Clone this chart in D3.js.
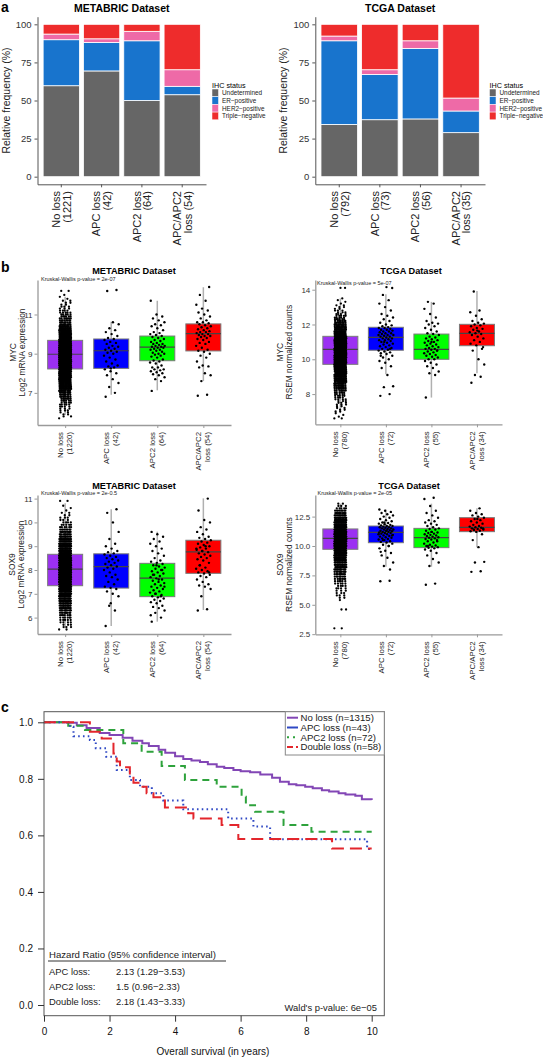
<!DOCTYPE html>
<html><head><meta charset="utf-8">
<script src="https://cdn.jsdelivr.net/npm/d3@7"></script>
<style>body{margin:0;background:#fff}svg{display:block}text{font-family:"Liberation Sans",Arial,Helvetica,sans-serif}</style>
</head><body><svg id="c" width="543" height="1061" font-family="Liberation Sans, Arial, Helvetica, sans-serif"></svg>
<script>
// ================= DATA =================
const groups = ["No loss","APC loss","APC2 loss","APC/APC2 loss"];
const ihcStatus = ["Undetermined","ER−positive","HER2−positive","Triple−negative"];
// Panel a – relative frequency (%) segments
const metabricUndet = [59.7,69.4,50.0,53.8];
const metabricER    = [30.2,18.7,39.2,5.5];
const metabricHER2  = [3.7,2.4,6.2,10.9];
const metabricTN    = [6.4,9.5,4.6,29.8];
const tcgaUndet = [34.3,37.4,37.9,28.9];
const tcgaER    = [54.9,29.7,46.3,14.2];
const tcgaHER2  = [3.1,3.1,5.0,8.5];
const tcgaTN    = [7.7,29.8,10.8,48.4];
const metabricLabelsA = ["No loss\n(1221)","APC loss\n(42)","APC2 loss\n(64)","APC/APC2\nloss (54)"];
const tcgaLabelsA = ["No loss\n(792)","APC loss\n(73)","APC2 loss\n(56)","APC/APC2\nloss (35)"];
const pctTicks = [0,25,50,75,100];

// Panel b – labels
const metabricLabelsB = ["No loss\n(1220)","APC loss\n(42)","APC2 loss\n(64)","APC/APC2\nloss (54)"];
const tcgaLabelsB = ["No loss\n(780)","APC loss\n(72)","APC2 loss\n(55)","APC/APC2\nloss (34)"];
// MYC METABRIC
const mycMetaQ1=[8.22,8.25,8.64,9.14], mycMetaMed=[8.97,9.15,9.33,10.02], mycMetaQ3=[9.68,9.75,9.90,10.52], mycMetaLo=[5.87,6.9,7.13,7.6], mycMetaHi=[11.9,10.63,11.7,12.39];
const mycMetaNoLossBins = {start:5.7, step:0.1, counts:[1,2,2,2,3,3,4,5,5,6,7,8,9,10,12,13,15,17,19,21,24,26,29,31,34,36,38,40,42,43,44,45,45,45,44,43,41,39,37,34,31,28,25,22,19,16,14,12,10,9,8,7,6,5,5,4,3,3,2,2,2,1,1,1,0,2]};
const mycMetaAPC = [6.8,7.0,7.3,7.5,7.7,7.9,8.0,8.1,8.2,8.3,8.35,8.4,8.5,8.6,8.7,8.8,8.9,9.0,9.05,9.1,9.15,9.2,9.25,9.3,9.35,9.4,9.5,9.55,9.6,9.7,9.75,9.8,9.9,10.0,10.1,10.2,10.3,10.5,10.6,12.2,12.25,8.25];
const mycMetaAPC2 = [7.1,7.6,7.7,7.8,7.9,7.95,8.0,8.05,8.1,8.15,8.2,8.2,8.3,8.3,8.4,8.5,8.55,8.6,8.65,8.7,8.8,8.85,8.9,8.95,9.0,9.0,9.05,9.1,9.15,9.2,9.2,9.25,9.3,9.3,9.35,9.35,9.4,9.4,9.45,9.5,9.5,9.55,9.6,9.65,9.7,9.75,9.8,9.85,9.9,9.95,10.0,10.05,10.1,10.2,10.3,10.4,10.45,10.5,10.6,10.7,10.8,10.9,11.0,11.7];
const mycMetaBoth = [6.85,6.9,7.6,7.9,8.0,8.3,8.35,8.4,8.6,8.8,8.9,9.0,9.1,9.15,9.2,9.3,9.4,9.5,9.55,9.6,9.7,9.75,9.8,9.85,9.9,9.9,9.95,10.0,10.0,10.05,10.1,10.1,10.15,10.2,10.25,10.3,10.35,10.4,10.45,10.5,10.55,10.6,10.6,10.7,10.8,10.9,11.0,11.1,11.2,11.3,11.5,11.7,12.0,12.4];
// MYC TCGA
const mycTcgaQ1=[9.71,10.52,10.0,10.78], mycTcgaMed=[10.57,11.26,10.57,11.49], mycTcgaQ3=[11.32,11.84,11.45,12.01], mycTcgaLo=[6.9,9.14,7.8,9.2], mycTcgaHi=[13.5,13.74,13.3,13.93];
const mycTcgaNoLossBins = {start:6.6, step:0.1, counts:[2,1,1,1,2,2,2,2,3,3,3,4,4,5,5,6,7,8,9,10,11,12,13,14,15,16,17,18,19,20,21,22,23,24,25,25,26,26,26,26,26,25,25,24,23,22,21,20,18,16,14,13,12,10,9,8,7,6,5,5,4,3,3,2,2,2,1,1,1,1,0,0,0,0,0,2]};
const mycTcgaAPC = [7.9,8.0,8.4,8.45,9.1,9.5,9.6,9.8,9.9,10.0,10.1,10.2,10.3,10.35,10.4,10.45,10.5,10.55,10.6,10.65,10.7,10.75,10.8,10.85,10.9,10.95,11.0,11.05,11.1,11.1,11.15,11.2,11.2,11.25,11.3,11.3,11.35,11.4,11.4,11.45,11.5,11.5,11.55,11.6,11.6,11.65,11.7,11.7,11.75,11.8,11.8,11.85,11.9,11.95,12.0,12.1,12.2,12.3,12.4,12.5,12.6,12.8,13.0,13.2,13.4,13.7,14.1,14.15,10.2,10.6,11.0,11.4];
const mycTcgaAPC2 = [7.8,9.1,9.2,9.3,9.5,9.6,9.7,9.8,9.9,10.0,10.0,10.1,10.15,10.2,10.25,10.3,10.35,10.4,10.45,10.5,10.55,10.6,10.6,10.65,10.7,10.75,10.8,10.85,10.9,10.95,11.0,11.05,11.1,11.15,11.2,11.25,11.3,11.4,11.45,11.5,11.6,11.7,11.8,11.9,12.0,12.05,12.1,12.2,12.4,12.6,12.9,13.2,13.3,10.5,11.0];
const mycTcgaBoth = [8.65,9.0,9.1,9.7,10.0,10.5,10.6,10.8,10.9,11.0,11.1,11.2,11.3,11.4,11.45,11.5,11.55,11.6,11.7,11.75,11.8,11.9,11.95,12.0,12.05,12.1,12.2,12.3,12.5,12.7,12.8,13.9,10.7,11.65];
// SOX9 METABRIC
const soxMetaQ1=[7.34,7.24,6.88,7.86], soxMetaMed=[8.04,8.14,7.66,8.76], soxMetaQ3=[8.66,8.68,8.28,9.25], soxMetaLo=[5.55,5.65,5.83,6.32], soxMetaHi=[10.8,10.55,9.61,11.01];
const soxMetaNoLossBins = {start:5.5, step:0.1, counts:[2,3,3,4,5,6,7,9,11,13,15,18,21,24,27,30,33,36,39,42,44,46,48,49,50,50,50,49,48,46,44,41,38,35,31,28,24,21,18,15,12,10,8,6,5,4,3,3,2,2,1,1,1,0,2]};
const soxMetaAPC = [5.65,6.3,6.5,6.9,7.0,7.1,7.2,7.25,7.3,7.4,7.5,7.6,7.7,7.75,7.8,7.9,8.0,8.05,8.1,8.15,8.2,8.25,8.3,8.35,8.4,8.45,8.5,8.55,8.6,8.65,8.7,8.75,8.8,8.9,9.0,9.1,9.3,9.6,10.0,10.4,10.55,6.6];
const soxMetaAPC2 = [5.83,6.0,6.2,6.3,6.4,6.45,6.5,6.6,6.65,6.7,6.75,6.8,6.85,6.9,6.95,7.0,7.05,7.1,7.15,7.2,7.25,7.3,7.35,7.4,7.45,7.5,7.55,7.6,7.65,7.7,7.75,7.8,7.85,7.9,7.95,8.0,8.05,8.1,8.15,8.2,8.25,8.3,8.35,8.4,8.5,8.6,8.7,8.8,8.9,9.0,9.1,9.2,9.3,9.4,9.5,9.6,6.9,7.0,7.3,7.6,7.8,8.0,8.2,6.1];
const soxMetaBoth = [6.3,6.35,6.9,7.2,7.3,7.35,7.4,7.5,7.6,7.7,7.75,7.8,7.85,7.9,7.95,8.0,8.05,8.1,8.2,8.3,8.4,8.45,8.5,8.55,8.6,8.65,8.7,8.75,8.8,8.85,8.9,8.95,9.0,9.05,9.1,9.15,9.2,9.25,9.3,9.35,9.4,9.5,9.6,9.7,9.8,10.0,10.1,10.5,11.0,8.8,8.9,9.0,8.2,7.9];
// SOX9 TCGA
const soxTcgaQ1=[9.72,10.28,9.86,11.22], soxTcgaMed=[10.65,11.16,10.71,11.59], soxTcgaQ3=[11.45,11.7,11.5,12.41], soxTcgaLo=[7.2,8.24,8.24,9.9], soxTcgaHi=[13.6,13.1,13.6,13.2];
const soxTcgaNoLossBins = {start:3.0, step:0.2, counts:[2,0,0,0,0,0,0,0,2,0,0,0,1,2,3,3,3,4,4,5,6,7,8,9,10,12,14,16,18,21,24,27,30,33,36,39,41,43,44,44,43,41,38,34,30,26,22,18,14,11,8,5,3,2]};
const soxTcgaAPC = [7.0,7.05,8.3,8.6,9.0,9.2,9.4,9.6,9.8,10.0,10.1,10.2,10.3,10.35,10.4,10.5,10.55,10.6,10.65,10.7,10.75,10.8,10.85,10.9,10.95,11.0,11.05,11.1,11.1,11.15,11.2,11.2,11.25,11.3,11.3,11.35,11.4,11.4,11.45,11.5,11.5,11.55,11.6,11.6,11.65,11.7,11.7,11.75,11.8,11.85,11.9,11.95,12.0,12.1,12.2,12.3,12.4,12.5,12.6,12.7,12.8,12.9,13.0,13.1,10.0,10.5,10.9,11.3,9.5,8.0,12.0,11.0];
const soxTcgaAPC2 = [6.7,6.8,8.3,8.6,8.9,9.2,9.4,9.6,9.7,9.8,9.85,9.9,9.95,10.0,10.05,10.1,10.2,10.3,10.4,10.5,10.55,10.6,10.65,10.7,10.75,10.8,10.85,10.9,10.95,11.0,11.05,11.1,11.15,11.2,11.3,11.4,11.45,11.5,11.6,11.7,11.8,11.9,12.0,12.1,12.2,12.4,12.6,12.8,13.0,13.4,14.0,14.1,10.0,10.4,11.2];
const soxTcgaBoth = [7.8,7.85,8.6,8.65,9.9,10.5,11.0,11.2,11.25,11.3,11.35,11.4,11.45,11.5,11.55,11.6,11.65,11.7,11.8,11.9,12.0,12.1,12.2,12.3,12.4,12.5,12.6,12.7,12.8,13.0,13.2,11.4,11.5,12.3];

// Panel c – Kaplan–Meier step points [time (years), survival]
const kmNoLoss = [[0,1],[0.7,0.998],[1.0,0.99],[1.3,0.98],[1.7,0.962],[2.0,0.955],[2.4,0.945],[2.7,0.935],[3.0,0.926],[3.2,0.916],[3.5,0.903],[3.7,0.892],[4.0,0.88],[4.25,0.87],[4.5,0.865],[4.76,0.86],[5.0,0.852],[5.27,0.843],[5.5,0.838],[5.78,0.831],[6.0,0.827],[6.29,0.823],[6.6,0.815],[6.96,0.804],[7.2,0.79],[7.47,0.781],[7.7,0.777],[7.97,0.772],[8.2,0.767],[8.48,0.76],[8.7,0.755],[8.99,0.749],[9.2,0.745],[9.5,0.74],[9.7,0.728],[10.0,0.725]];
const kmAPC = [[0,1],[0.79,0.984],[0.9,0.951],[1.4,0.937],[1.58,0.908],[1.9,0.878],[2.22,0.831],[2.62,0.796],[2.93,0.772],[3.29,0.749],[3.64,0.723],[4.25,0.692],[5.62,0.66],[6.39,0.631],[6.9,0.586],[9.86,0.554],[9.92,0.539]];
const kmAPC2 = [[0,1],[0.74,0.988],[1.25,0.973],[2.42,0.926],[2.98,0.896],[3.59,0.845],[4.3,0.796],[5.27,0.772],[6.03,0.737],[6.16,0.707],[6.44,0.684],[7.31,0.637],[8.16,0.613],[10.0,0.613]];
const kmDouble = [[0,1],[1.4,0.967],[1.76,0.943],[2.12,0.89],[2.22,0.861],[2.32,0.841],[2.62,0.808],[2.73,0.786],[2.93,0.772],[3.13,0.749],[3.34,0.735],[3.69,0.699],[4.4,0.678],[4.56,0.66],[5.42,0.637],[5.93,0.587],[8.79,0.554],[10.0,0.554]];
const kmLegend = ["No loss (n=1315)","APC loss (n=43)","APC2 loss (n=72)","Double loss (n=58)"];
const hazardTitle = "Hazard Ratio (95% confidence interval)";
const hazardLabels = ["APC loss:","APC2 loss:","Double loss:"];
const hazardValues = ["2.13 (1.29−3.53)","1.5 (0.96−2.33)","2.18 (1.43−3.33)"];
const waldText = "Wald's p-value: 6e−05";
const survTicksY = [0,0.2,0.4,0.6,0.8,1.0];
const survTicksX = [0,2,4,6,8,10];

// ================= DRAWING =================
const FONT = '"Liberation Sans", Arial, Helvetica, sans-serif';
const svg = d3.select("#c");
const ihcColors = ["#666666","#1874cd","#ee6aa7","#ee2c2c"];
const boxColors = ["#9b30f2","#0000ff","#00ff00","#ff0000"];

function txt(g){ return g.append("text").style("font-family",FONT); }

function panelLetter(t,x,y){txt(svg).attr("x",x).attr("y",y).text(t).style("font-weight","bold").style("font-size","14px");}
panelLetter("a",1,12); panelLetter("b",1,272); panelLetter("c",1,712);

function rotLabels(g, x, labels, yTop, size, off1, off2){
  labels.forEach((lab,i)=>{
    const lines = lab.split("\n");
    const cx = x(groups[i]) + (x.bandwidth ? x.bandwidth()/2 : 0);
    lines.forEach((ln,j)=>{
      txt(g).attr("transform",`translate(${cx+(j===0?off1:off2)},${yTop}) rotate(-90)`)
        .attr("text-anchor","end").attr("dy","0.35em").style("font-size",size+"px").attr("fill","#222").text(ln);
    });
  });
}

function styleAxis(a, col, fs, tcol){
  a.select(".domain").attr("stroke",col).attr("stroke-width",1);
  a.selectAll(".tick line").attr("stroke",col);
  a.selectAll(".tick text").style("font-size",fs+"px").attr("fill",tcol).style("font-family",FONT);
}

// ---------- Panel a ----------
function barPanel(o){
  const g = svg.append("g");
  const x = d3.scaleBand().domain(groups).range([o.left,o.right]).paddingInner(0.1).paddingOuter(0.14);
  const y = d3.scaleLinear().domain([-5,105]).range([184.3,16.7]);
  const rows = groups.map((k,i)=>({grp:k,[ihcStatus[0]]:o.und[i],[ihcStatus[1]]:o.er[i],[ihcStatus[2]]:o.her2[i],[ihcStatus[3]]:o.tn[i]}));
  const series = d3.stack().keys(ihcStatus)(rows);
  g.selectAll("g.s").data(series).join("g").attr("fill",(d,i)=>ihcColors[i])
    .selectAll("rect").data(d=>d).join("rect")
    .attr("x",d=>x(d.data.grp)).attr("width",x.bandwidth())
    .attr("y",d=>y(d[1])).attr("height",d=>y(d[0])-y(d[1]))
    .attr("stroke","#fff").attr("stroke-width",0.8);
  const ya = g.append("g").attr("transform",`translate(${o.left},0)`).call(d3.axisLeft(y).tickValues(pctTicks).tickSize(3).tickSizeOuter(0).tickPadding(3));
  styleAxis(ya,"#555",9.5,"#333");
  const xa = g.append("g").attr("transform",`translate(0,${y(-5)})`).call(d3.axisBottom(x).tickSize(3).tickSizeOuter(0).tickFormat(""));
  styleAxis(xa,"#555",9.5,"#333");
  rotLabels(g,x,o.labels,191,11,-5,5.5);
  txt(g).attr("x",(o.left+o.right)/2).attr("y",12).attr("text-anchor","middle").style("font-weight","bold").style("font-size","10.5px").text(o.title);
  txt(g).attr("transform",`translate(${o.ytX},${(y(105)+y(-5))/2}) rotate(-90)`).attr("text-anchor","middle").attr("dy","0.35em").style("font-size","10.5px").attr("fill","#222").text("Relative frequency (%)");
  // legend
  const lg = g.append("g").attr("transform",`translate(${o.legX},0)`);
  txt(lg).attr("x",0).attr("y",85).attr("dy","0.35em").style("font-size","7.2px").text("IHC status");
  ihcStatus.forEach((s,i)=>{
    lg.append("rect").attr("x",0).attr("y",89+i*7.7).attr("width",6.5).attr("height",7.7).attr("fill",ihcColors[i]).attr("stroke","#fff").attr("stroke-width",0.5);
    txt(lg).attr("x",10).attr("y",92.9+i*7.7).attr("dy","0.35em").style("font-size","6.4px").attr("fill","#222").text(s);
  });
}
barPanel({left:37.5,right:206,und:metabricUndet,er:metabricER,her2:metabricHER2,tn:metabricTN,labels:metabricLabelsA,title:"METABRIC Dataset",ytX:6,legX:212});
barPanel({left:315.3,right:485,und:tcgaUndet,er:tcgaER,her2:tcgaHER2,tn:tcgaTN,labels:tcgaLabelsA,title:"TCGA Dataset",ytX:283,legX:489.5});

// ---------- Panel b ----------
function boxPanel(o){
  const g = svg.append("g");
  const x = d3.scalePoint().domain(groups).range([o.left,o.right]).padding(o.pad);
  const y = d3.scaleLinear().domain(o.domain).range([o.bottom,o.top]);
  const bw = 35;
  groups.forEach((k,i)=>{
    g.append("line").attr("x1",x(k)).attr("x2",x(k)).attr("y1",y(o.lo[i])).attr("y2",y(o.hi[i])).attr("stroke","#b0b0b0").attr("stroke-width",1.5);
  });
  g.selectAll("rect.box").data(groups).join("rect").attr("class","box")
    .attr("x",k=>x(k)-bw/2).attr("width",bw)
    .attr("y",(k,i)=>y(o.q3[i])).attr("height",(k,i)=>y(o.q1[i])-y(o.q3[i]))
    .attr("fill",(k,i)=>boxColors[i]).attr("stroke","#7a7a7a").attr("stroke-width",1);
  g.selectAll("line.med").data(groups).join("line").attr("class","med")
    .attr("x1",k=>x(k)-bw/2).attr("x2",k=>x(k)+bw/2)
    .attr("y1",(k,i)=>y(o.med[i])).attr("y2",(k,i)=>y(o.med[i])).attr("stroke","#444").attr("stroke-width",1.2);
  const dense = [];
  o.bins.counts.forEach((c,b)=>{ for(let j=0;j<c;j++){ dense.push({v:o.bins.start+b*o.bins.step, off:((j*0.618034+b*0.3719)%1-0.5)*12}); } });
  g.append("g").selectAll("circle").data(dense).join("circle")
    .attr("cx",d=>x(groups[0])+d.off).attr("cy",d=>y(d.v)).attr("r",1.15).attr("fill","#000");
  o.pts.forEach((arr,gi)=>{
    g.append("g").selectAll("circle").data(arr).join("circle")
      .attr("cx",(v,i)=>x(groups[gi+1])+((i*0.618034+0.13)%1-0.5)*15).attr("cy",v=>y(v)).attr("r",1.2).attr("fill","#000");
  });
  const ya = g.append("g").attr("transform",`translate(${o.left},0)`).call(d3.axisLeft(y).tickValues(o.ticks).tickFormat(o.fmt).tickSize(3).tickSizeOuter(0).tickPadding(2));
  styleAxis(ya,"#9a9a9a",8,"#333");
  ya.select(".domain").attr("stroke-width",1.3);
  const xa = g.append("g").attr("transform",`translate(0,${o.bottom})`).call(d3.axisBottom(x).tickSize(3).tickSizeOuter(0).tickFormat(""));
  styleAxis(xa,"#9a9a9a",8,"#333");
  xa.select(".domain").attr("stroke-width",1.3);
  rotLabels(g,x,o.labels,o.bottom+7,7.8,-5,4);
  txt(g).attr("x",o.titleX).attr("y",o.titleY).attr("text-anchor","middle").style("font-weight","bold").style("font-size","9.2px").text(o.title);
  txt(g).attr("x",o.kwX).attr("y",o.kwY).style("font-size","5.5px").attr("fill","#222").text(o.kw);
  o.ytitle.forEach((t,j)=>{
    txt(g).attr("transform",`translate(${o.ytX[j]},${(o.top+o.bottom)/2}) rotate(-90)`).attr("text-anchor","middle").attr("dy","0.35em").style("font-size","8.4px").attr("fill","#222").text(t);
  });
}
const f0 = d3.format("d"), f1 = d3.format(".1f");
boxPanel({left:37.5,right:231,pad:0.6,top:280,bottom:425,domain:[5.36,12.76],ticks:[7,9,11],fmt:f0,
  q1:mycMetaQ1,med:mycMetaMed,q3:mycMetaQ3,lo:mycMetaLo,hi:mycMetaHi,bins:mycMetaNoLossBins,pts:[mycMetaAPC,mycMetaAPC2,mycMetaBoth],
  labels:metabricLabelsB,title:"METABRIC Dataset",titleX:134,titleY:274,kw:"Kruskal-Wallis p-value = 2e-07",kwX:41,kwY:281,ytitle:["MYC","Log2 mRNA expression"],ytX:[13,22.5]});
boxPanel({left:315.3,right:502,pad:0.55,top:280,bottom:424.3,domain:[6.264,14.557],ticks:[8,10,12,14],fmt:f0,
  q1:mycTcgaQ1,med:mycTcgaMed,q3:mycTcgaQ3,lo:mycTcgaLo,hi:mycTcgaHi,bins:mycTcgaNoLossBins,pts:[mycTcgaAPC,mycTcgaAPC2,mycTcgaBoth],
  labels:tcgaLabelsB,title:"TCGA Dataset",titleX:411,titleY:274,kw:"Kruskal-Wallis p-value = 5e-07",kwX:317,kwY:284.5,ytitle:["MYC","RSEM normalized counts"],ytX:[280.5,289.5]});
boxPanel({left:37.5,right:231,pad:0.6,top:495,bottom:634,domain:[5.311,11.151],ticks:[6,7,8,9,10,11],fmt:f0,
  q1:soxMetaQ1,med:soxMetaMed,q3:soxMetaQ3,lo:soxMetaLo,hi:soxMetaHi,bins:soxMetaNoLossBins,pts:[soxMetaAPC,soxMetaAPC2,soxMetaBoth],
  labels:metabricLabelsB,title:"METABRIC Dataset",titleX:134,titleY:488.5,kw:"Kruskal-Wallis p-value = 2e-0.5",kwX:41,kwY:495,ytitle:["SOX9","Log2 mRNA expression"],ytX:[12,21]});
boxPanel({left:315.3,right:502,pad:0.55,top:495,bottom:634.3,domain:[2.49,14.337],ticks:[2.5,5,7.5,10,12.5],fmt:f1,
  q1:soxTcgaQ1,med:soxTcgaMed,q3:soxTcgaQ3,lo:soxTcgaLo,hi:soxTcgaHi,bins:soxTcgaNoLossBins,pts:[soxTcgaAPC,soxTcgaAPC2,soxTcgaBoth],
  labels:tcgaLabelsB,title:"TCGA Dataset",titleX:409,titleY:488.5,kw:"Kruskal-Wallis p-value = 2e-05",kwX:317.5,kwY:495,ytitle:["SOX9","RSEM normalized counts"],ytX:[280.5,289.5]});

// ---------- Panel c ----------
(function(){
  const g = svg.append("g");
  const x = d3.scaleLinear().domain([0,10]).range([44,371.7]);
  const y = d3.scaleLinear().domain([0,1]).range([1005,722.3]);
  const fx0 = 44, fx1 = 384.3, fy0 = 711.7, fy1 = 1015.7;
  const kmData = [kmNoLoss,kmAPC,kmAPC2,kmDouble];
  const kmCol = ["#8246b5","#2f48c4","#2ea23c","#e3262c"];
  const kmDash = [null,"1.6,3.2","7,5","12,6"];
  const line = d3.line().x(d=>x(d[0])).y(d=>y(d[1])).curve(d3.curveStepAfter);
  [0,2,1,3].forEach(i=>{
    g.append("path").attr("d",line(kmData[i])).attr("fill","none").attr("stroke",kmCol[i]).attr("stroke-width",2)
      .attr("stroke-dasharray",kmDash[i]);
  });
  g.append("rect").attr("x",fx0).attr("y",fy0).attr("width",fx1-fx0).attr("height",fy1-fy0).attr("fill","none").attr("stroke","#555").attr("stroke-width",1);
  const ya = g.append("g").attr("transform",`translate(${fx0},0)`).call(d3.axisLeft(y).tickValues(survTicksY).tickFormat(f1).tickSize(6).tickSizeOuter(0).tickPadding(5));
  styleAxis(ya,"#333",10,"#111");
  const xa = g.append("g").attr("transform",`translate(0,${fy1})`).call(d3.axisBottom(x).tickValues(survTicksX).tickFormat(f0).tickSize(6).tickSizeOuter(0).tickPadding(6));
  styleAxis(xa,"#333",10,"#111");
  xa.select(".domain").attr("stroke","none");
  ya.select(".domain").attr("stroke","none");
  txt(g).attr("x",213).attr("y",1055).attr("text-anchor","middle").style("font-size","10px").attr("fill","#111").text("Overall survival (in years)");
  g.append("rect").attr("x",285.3).attr("y",fy0).attr("width",fx1-285.3).attr("height",43.3).attr("fill","#fff").attr("stroke","#888").attr("stroke-width",1);
  const legDash = [null,null,"2,4","6,3"];
  kmLegend.forEach((t,i)=>{
    const yy = 717.7+i*9.8;
    g.append("line").attr("x1",287).attr("x2",298).attr("y1",yy).attr("y2",yy).attr("stroke",kmCol[i]).attr("stroke-width",2).attr("stroke-dasharray",legDash[i]);
    txt(g).attr("x",300.5).attr("y",yy).attr("dy","0.35em").style("font-size","9.6px").attr("fill","#222").text(t);
  });
  txt(g).attr("x",49).attr("y",955).attr("dy","0.35em").style("font-size","9.6px").attr("fill","#222").text(hazardTitle);
  g.append("line").attr("x1",48).attr("x2",226).attr("y1",961).attr("y2",961).attr("stroke","#333").attr("stroke-width",1);
  hazardLabels.forEach((t,i)=>{
    const yy = 971.7+i*14.8;
    txt(g).attr("x",49).attr("y",yy).attr("dy","0.35em").style("font-size","9.4px").attr("fill","#222").text(t);
    txt(g).attr("x",116).attr("y",yy).attr("dy","0.35em").style("font-size","9.4px").attr("fill","#222").text(hazardValues[i]);
  });
  txt(g).attr("x",377).attr("y",1007.5).attr("dy","0.35em").attr("text-anchor","end").style("font-size","9.4px").attr("fill","#222").text(waldText);
})();
</script>
</body></html>
